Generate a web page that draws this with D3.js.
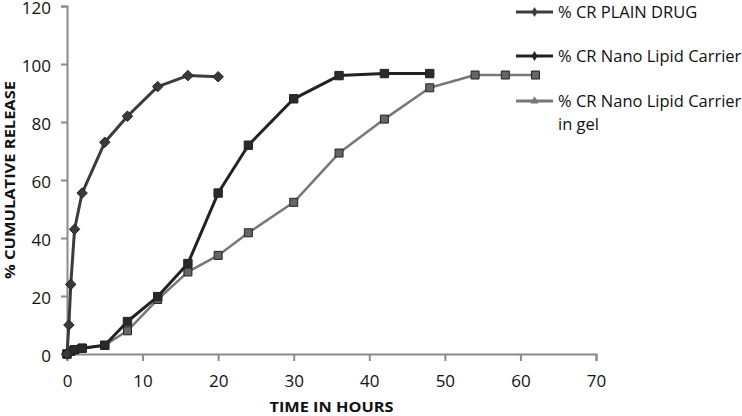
<!DOCTYPE html>
<html>
<head>
<meta charset="utf-8">
<script src="https://cdnjs.cloudflare.com/ajax/libs/d3/7.8.5/d3.min.js"></script>
<style>
  body { margin: 0; background: #fff; }
  svg { font-family: "Open Sans", "Noto Sans", sans-serif; }
</style>
</head>
<body>
<svg id="chart" width="742" height="416"></svg>
<script>
// data
let plainTime = [0, 0.25, 0.5, 1, 2, 5, 8, 12, 16, 20];
let plainRelease = [0, 10, 24, 43, 55.5, 73, 82, 92.2, 96, 95.6];

let nlcTime = [0, 0.5, 1, 2, 5, 8, 12, 16, 20, 24, 30, 36, 42, 48];
let nlcRelease = [0, 1, 1.5, 2, 3, 11.2, 19.8, 31.2, 55.5, 72, 88, 96, 96.7, 96.7];

let gelTime = [0, 0.5, 1, 2, 5, 8, 12, 16, 20, 24, 30, 36, 42, 48, 54, 58, 62];
let gelRelease = [0, 1, 1.5, 2, 3, 8, 18.8, 28.3, 34, 41.8, 52.3, 69.3, 81, 91.8, 96.2, 96.2, 96.2];

let xTicks = [0, 10, 20, 30, 40, 50, 60, 70];
let yTicks = [0, 20, 40, 60, 80, 100, 120];

let seriesNames = ['% CR PLAIN DRUG', '% CR Nano Lipid Carrier', '% CR Nano Lipid Carrier in gel'];

let svg = d3.select('#chart');

let x = d3.scaleLinear().domain([0, 70]).range([67, 596]),
    y = d3.scaleLinear().domain([0, 120]).range([354, 6]);

let axisColor = '#8a8a8a';

// x axis
let gx = svg.append('g')
  .attr('transform', 'translate(0,' + y(0) + ')')
  .call(d3.axisBottom(x).tickValues(xTicks).tickSize(7).tickPadding(14));
gx.select('.domain').attr('stroke', axisColor).attr('stroke-width', 2);
gx.selectAll('.tick line').attr('stroke', axisColor).attr('stroke-width', 2);
gx.selectAll('.tick text').attr('font-size', 17).attr('fill', '#111')
  .attr('font-family', '"Open Sans", sans-serif');

// y axis
let gy = svg.append('g')
  .attr('transform', 'translate(' + x(0) + ',0)')
  .call(d3.axisLeft(y).tickValues(yTicks).tickSize(6).tickPadding(10));
gy.select('.domain').attr('stroke', axisColor).attr('stroke-width', 2);
gy.selectAll('.tick line').attr('stroke', axisColor).attr('stroke-width', 2);
gy.selectAll('.tick text').attr('font-size', 17).attr('fill', '#111')
  .attr('dy', '0.42em')
  .attr('font-family', '"Open Sans", sans-serif');

// axis titles
svg.append('text')
  .attr('x', (x(0) + x(70)) / 2)
  .attr('y', 412)
  .attr('text-anchor', 'middle')
  .attr('font-size', 15)
  .attr('font-weight', 'bold')
  .attr('fill', '#111')
  .attr('textLength', 124)
  .attr('lengthAdjust', 'spacingAndGlyphs')
  .text('TIME IN HOURS');

svg.append('text')
  .attr('transform', 'translate(15,180) rotate(-90)')
  .attr('text-anchor', 'middle')
  .attr('font-size', 15)
  .attr('font-weight', 'bold')
  .attr('fill', '#111')
  .attr('textLength', 198)
  .attr('lengthAdjust', 'spacingAndGlyphs')
  .text('% CUMULATIVE RELEASE');

let zipSeries = function (ts, vs) {
  return ts.map(function (t, i) { return { t: t, v: vs[i] }; });
};

let series = [
  { name: seriesNames[0], points: zipSeries(plainTime, plainRelease), color: '#3c3c3c', fill: '#3a3a3a', marker: d3.symbolDiamond2, size: 70 },
  { name: seriesNames[1], points: zipSeries(nlcTime, nlcRelease), color: '#222', fill: '#2a2a2a', marker: d3.symbolSquare, size: 70 },
  { name: seriesNames[2], points: zipSeries(gelTime, gelRelease), color: '#777', fill: '#666', marker: d3.symbolSquare, size: 64 }
];

let line = d3.line()
  .x(function (d) { return x(d.t); })
  .y(function (d) { return y(d.v); });

// draw gel first, so darker lines sit on top
[2, 1, 0].forEach(function (k) {
  let s = series[k];
  svg.append('path')
    .datum(s.points)
    .attr('d', line)
    .attr('fill', 'none')
    .attr('stroke', s.color)
    .attr('stroke-width', k == 2 ? 2.5 : 3)
    .attr('stroke-linejoin', 'round');

  svg.append('g').selectAll('path')
    .data(s.points)
    .join('path')
    .attr('transform', function (d) { return 'translate(' + x(d.t) + ',' + y(d.v) + ')'; })
    .attr('d', d3.symbol().type(s.marker).size(s.size))
    .attr('fill', s.fill)
    .attr('stroke', '#222')
    .attr('stroke-width', 1);
});

// legend
let legendY = [12, 56, 101];
let legend = svg.append('g');
series.forEach(function (s, i) {
  let g = legend.append('g').attr('transform', 'translate(516,' + legendY[i] + ')');
  g.append('rect')
    .attr('x', -2).attr('y', -10).attr('width', 230).attr('height', i == 2 ? 44 : 20)
    .attr('fill', '#fff');
  g.append('line')
    .attr('x1', 0).attr('x2', 37).attr('y1', 0).attr('y2', 0)
    .attr('stroke', s.color).attr('stroke-width', 3);
  g.append('path')
    .attr('transform', 'translate(18.5,0)')
    .attr('d', d3.symbol().type(i == 2 ? d3.symbolTriangle : d3.symbolDiamond).size(30))
    .attr('fill', s.color);
  let txt = g.append('text')
    .attr('x', 42).attr('y', 6)
    .attr('font-size', 16.5)
    .attr('fill', '#111');
  if (i == 2) {
    txt.append('tspan').attr('x', 42).text('% CR Nano Lipid Carrier');
    txt.append('tspan').attr('x', 42).attr('dy', 23).text('in gel');
  } else {
    txt.text(s.name);
  }
});
</script>
</body>
</html>
